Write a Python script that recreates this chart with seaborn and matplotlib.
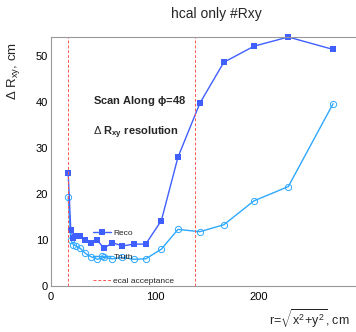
import matplotlib
matplotlib.use("Agg")
import matplotlib.pyplot as plt
import seaborn as sns
import pandas as pd
from matplotlib.lines import Line2D
from matplotlib.ticker import MultipleLocator

# ---- data ----
r_vals = [16.5, 19, 21.5, 24, 28, 33, 38, 44.5, 51, 59, 68.6, 79.5, 91, 106, 122, 143, 166, 195, 228, 271]
reco = [24.6, 12.2, 10.4, 10.9, 10.9, 9.9, 9.3, 9.9, 8.2, 9.4, 8.7, 9.1, 9.1, 14.2, 28.0, 39.7, 48.6, 52.1, 54.1, 51.4]
truth = [19.4, 10.0, 9.0, 8.7, 8.2, 7.1, 6.4, 5.8, 6.2, 5.9, 6.2, 5.8, 5.9, 8.0, 12.3, 11.8, 13.3, 18.5, 21.6, 39.6]
ecal_acceptance = [16, 138]
series_names = ["Reco", "Truth", "ecal acceptance"]
title = "hcal only #Rxy"

sns.set_style("white")
plt.rcParams['font.family'] = ['Liberation Sans', 'DejaVu Sans']
plt.rcParams['mathtext.fontset'] = 'custom'
plt.rcParams['mathtext.rm'] = 'Liberation Sans'
plt.rcParams['mathtext.it'] = 'Liberation Sans:italic'
plt.rcParams['mathtext.bf'] = 'Liberation Sans:bold'

W, H = 356, 332
fig = plt.figure(figsize=(W / 100, H / 100), dpi=100)
ax = fig.add_axes([51 / W, (H - 286) / H, (357 - 51) / W, (286 - 37) / H])

c_reco = '#3f5fff'
c_truth = '#2fa8ff'

df = pd.DataFrame({"r": r_vals, "reco": reco, "truth": truth})
sns.lineplot(data=df, x="r", y="truth", ax=ax, sort=False, estimator=None, color=c_truth,
             linewidth=1.0, marker='o', markersize=4.5, markerfacecolor='none',
             markeredgecolor=c_truth, markeredgewidth=0.7, clip_on=False)
sns.lineplot(data=df, x="r", y="reco", ax=ax, sort=False, estimator=None, color=c_reco,
             linewidth=1.0, marker='s', markersize=4.8, markeredgewidth=0,
             clip_on=False)
for xv in ecal_acceptance:
    ax.axvline(xv, color='#ff5555', linestyle=(0, (3, 2)), linewidth=0.7)

ax.set_xlim(0, 294)
ax.set_ylim(0, 54.1)
ax.set_xlabel("")
ax.set_ylabel("")
ax.xaxis.set_major_locator(MultipleLocator(100))
ax.xaxis.set_minor_locator(MultipleLocator(20))
ax.yaxis.set_major_locator(MultipleLocator(10))
ax.yaxis.set_minor_locator(MultipleLocator(2))
ax.tick_params(axis='both', which='both', direction='in', color='#888888',
               labelsize=8, labelcolor='black')
ax.tick_params(axis='both', which='major', length=7, width=0.8)
ax.tick_params(axis='both', which='minor', length=3.5, width=0.8)
ax.tick_params(axis='y', which='both', pad=2)
ax.tick_params(axis='x', which='both', pad=4)
for s in ax.spines.values():
    s.set_color('#999999')
    s.set_linewidth(0.8)
ax.spines['right'].set_visible(False)

handles = [
    Line2D([], [], color=c_reco, marker='s', markersize=4.8, markeredgewidth=0, linewidth=1.0),
    Line2D([], [], color=c_truth, marker='o', markersize=4.5, markerfacecolor='none',
           markeredgecolor=c_truth, markeredgewidth=0.7, linewidth=1.0),
    Line2D([], [], color='#ff5555', linestyle=(0, (3, 2)), linewidth=0.7),
]
leg = ax.legend(handles, series_names, loc='upper left', frameon=False,
                bbox_to_anchor=(93 / W, (H - 229) / H), bbox_transform=fig.transFigure,
                fontsize=6, borderpad=0, borderaxespad=0, handlelength=2.1,
                handletextpad=0.35, labelspacing=1.95)

fig.text(216 / W, 1 - 14 / H, title, ha='center', va='center', fontsize=10)
fig.text(93 / W, 1 - 101 / H, r"Scan Along $\mathbf{\phi}$=48", ha='left', va='center',
         fontsize=8, fontweight='bold')
fig.text(93 / W, 1 - 133 / H, r"$\Delta$ R$_{\mathbf{xy}}$ resolution", ha='left', va='center',
         fontsize=8, fontweight='bold')
fig.text(14 / W, 1 - 42 / H, r"$\Delta$ R$_{\mathrm{xy}}$, cm", ha='center', va='top',
         rotation=90, fontsize=9.5)
fig.text(350 / W, 1 - 319 / H, r"r=$\sqrt{\mathrm{x}^2\!+\!\mathrm{y}^2}$, cm", ha='right',
         va='center', fontsize=9)

fig.savefig("out.png", dpi=100)
